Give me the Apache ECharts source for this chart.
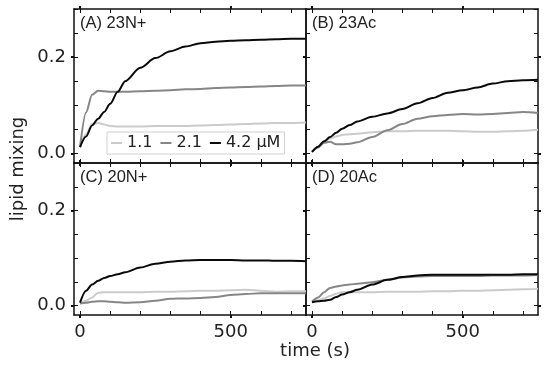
<!DOCTYPE html>
<html><head><meta charset="utf-8">
<script src="https://cdn.jsdelivr.net/npm/echarts@6/dist/echarts.min.js"></script>
<style>html,body{margin:0;padding:0;background:#fff}#c{width:550px;height:365px}</style>
</head><body><div id="c"></div>
<script>
// time (s)
const time = [0,20,40,60,80,100,125,150,200,250,300,350,400,450,500,550,600,650,700,750];
// (A) 23N+
const A_11 = [0.013,0.040,0.061,0.063,0.060,0.057,0.056,0.056,0.056,0.057,0.057,0.057,0.058,0.059,0.060,0.061,0.062,0.063,0.063,0.064];
const A_21 = [0.013,0.085,0.122,0.130,0.129,0.128,0.128,0.128,0.129,0.130,0.131,0.133,0.134,0.136,0.137,0.138,0.139,0.140,0.141,0.141];
const A_42 = [0.013,0.035,0.058,0.072,0.086,0.103,0.128,0.150,0.178,0.198,0.212,0.222,0.229,0.232,0.234,0.235,0.236,0.237,0.238,0.238];
// (B) 23Ac
const B_11 = [0.003,0.013,0.024,0.031,0.035,0.038,0.040,0.041,0.044,0.046,0.046,0.047,0.047,0.047,0.046,0.045,0.045,0.046,0.047,0.049];
const B_21 = [0.003,0.012,0.022,0.024,0.019,0.019,0.020,0.023,0.034,0.048,0.061,0.072,0.077,0.080,0.082,0.081,0.082,0.084,0.086,0.084];
const B_42 = [0.003,0.014,0.025,0.034,0.043,0.051,0.059,0.066,0.076,0.083,0.092,0.104,0.115,0.126,0.131,0.137,0.145,0.150,0.152,0.153];
// (C) 20N+
const C_11 = [0.004,0.010,0.017,0.027,0.028,0.028,0.028,0.028,0.028,0.029,0.029,0.030,0.031,0.031,0.032,0.033,0.031,0.029,0.030,0.030];
const C_21 = [0.004,0.006,0.008,0.009,0.009,0.008,0.007,0.006,0.007,0.010,0.014,0.015,0.016,0.018,0.022,0.024,0.026,0.026,0.026,0.026];
const C_42 = [0.006,0.031,0.044,0.052,0.058,0.062,0.066,0.070,0.080,0.088,0.092,0.095,0.096,0.096,0.096,0.095,0.095,0.094,0.094,0.093];
// (D) 20Ac
const D_11 = [0.008,0.011,0.015,0.020,0.025,0.028,0.028,0.028,0.028,0.029,0.029,0.029,0.030,0.030,0.031,0.031,0.032,0.033,0.034,0.035];
const D_21 = [0.008,0.017,0.028,0.037,0.040,0.042,0.044,0.046,0.049,0.054,0.059,0.061,0.062,0.062,0.062,0.062,0.063,0.063,0.063,0.064];
const D_42 = [0.007,0.009,0.010,0.012,0.018,0.023,0.028,0.033,0.044,0.054,0.060,0.063,0.065,0.065,0.065,0.065,0.065,0.065,0.066,0.066];

const panelLabels = ['(A) 23N+','(B) 23Ac','(C) 20N+','(D) 20Ac'];
const seriesNames = ['1.1','2.1','4.2 μM'];
const xMinorTicks = [0,100,200,300,400,500,600,700];
const xMajorTicks = [0,500];
const yMinorTicks = [0,0.05,0.1,0.15,0.2,0.25,0.3];
const yMajorTicks = [0,0.2];
const panelData = [[A_11,A_21,A_42],[B_11,B_21,B_42],[C_11,C_21,C_42],[D_11,D_21,D_42]];

const colors = ['#cbcbcb','#868686','#0a0a0a'];
const AX = '#111';
const FONT = 'DejaVu Sans';
const grids = [
  {left:74, top:9, width:232, height:154},
  {left:306, top:9, width:232, height:154},
  {left:74, top:163, width:232, height:152},
  {left:306, top:163, width:232, height:152}
];
const xAxes = [], yAxes = [], series = [];
const mainX = [], mainY = [];

function xa(g, pos, opts){
  const a = Object.assign({type:'value', gridIndex:g, position:pos, min:-20, max:750,
    splitLine:{show:false}, axisLabel:{show:false}, axisLine:{show:false, onZero:false}, axisTick:{show:false}}, opts);
  xAxes.push(a); return xAxes.length-1;
}
function ya(g, pos, opts){
  const a = Object.assign({type:'value', gridIndex:g, position:pos, min:-0.02, max:0.3,
    splitLine:{show:false}, axisLabel:{show:false}, axisLine:{show:false, onZero:false}, axisTick:{show:false}}, opts);
  yAxes.push(a); return yAxes.length-1;
}
const majorTick = vals => ({show:true, inside:false, length:3, customValues:vals, lineStyle:{color:AX,width:2}});
const minorTick = vals => ({show:true, inside:true, length:4, customValues:vals, lineStyle:{color:AX,width:1}});
const frame = {show:true, onZero:false, lineStyle:{color:AX,width:1.5}};

for (let g=0; g<4; g++){
  const bottomRow = g>=2, leftCol = (g%2===0);
  mainX[g] = xa(g,'bottom',{
    axisLine:frame, axisTick:minorTick(xMinorTicks),
    axisLabel:{show:bottomRow, customValues:xMajorTicks, fontFamily:FONT, fontSize:18, color:'#222', margin:8}
  });
  xa(g,'bottom',{axisTick:majorTick(xMajorTicks)});
  xa(g,'top',{axisLine:frame, axisTick:minorTick(xMinorTicks)});
  xa(g,'top',{axisTick:majorTick(xMajorTicks)});

  mainY[g] = ya(g,'left',{
    axisLine:frame, axisTick:minorTick(yMinorTicks),
    axisLabel:{show:leftCol, customValues:yMajorTicks, formatter:v=>v.toFixed(1), fontFamily:FONT, fontSize:18, color:'#222', margin:8}
  });
  ya(g,'left',{axisTick:majorTick(yMajorTicks)});
  ya(g,'right',{axisLine:frame, axisTick:Object.assign(minorTick(yMinorTicks),{show:!leftCol})});
  if (!leftCol) ya(g,'right',{axisTick:majorTick(yMajorTicks)});

  for (let s=0; s<3; s++){
    const vals = panelData[g][s];
    series.push({
      type:'line', name:seriesNames[s], xAxisIndex:mainX[g], yAxisIndex:mainY[g],
      data: time.map((t,i)=>[t, vals[i]]),
      showSymbol:false, symbol:'none', smooth:0.3, smoothMonotone:'x',
      color:colors[s], lineStyle:{color:colors[s], width:2}, z:2+s, silent:true
    });
  }
}

const panelPos = [[80,23],[312,23],[80,177],[312,177]];
const graphic = panelLabels.map((t,i)=>({
  type:'text', x:panelPos[i][0], y:panelPos[i][1], z:100,
  style:{text:t, fontFamily:'Liberation Sans', fontSize:16.5, fill:'#222', textAlign:'left', textVerticalAlign:'middle'}
}));
graphic.push({type:'text', x:315, y:351, z:100,
  style:{text:'time (s)', fontFamily:FONT, fontSize:18, fill:'#222', textAlign:'center', textVerticalAlign:'middle'}});
graphic.push({type:'text', x:18, y:169, rotation:Math.PI/2, z:100,
  style:{text:'lipid mixing', fontFamily:FONT, fontSize:18, fill:'#222', textAlign:'center', textVerticalAlign:'middle'}});

const chart = echarts.init(document.getElementById('c'), null, {renderer:'canvas'});
chart.setOption({
  animation:false,
  backgroundColor:'#fff',
  grid: grids.map(g=>Object.assign({containLabel:false, outerBoundsMode:'none'}, g)),
  xAxis:xAxes, yAxis:yAxes,
  legend:{
    data:seriesNames, left:107, top:132, orient:'horizontal', selectedMode:false,
    icon:'rect', itemWidth:11, itemHeight:2, itemGap:8,
    padding:[3,4], borderColor:'#cfcfcf', borderWidth:1, backgroundColor:'#fff',
    textStyle:{fontFamily:FONT, fontSize:16, color:'#222'}
  },
  graphic:graphic,
  series:series
});
</script>
</body></html>
